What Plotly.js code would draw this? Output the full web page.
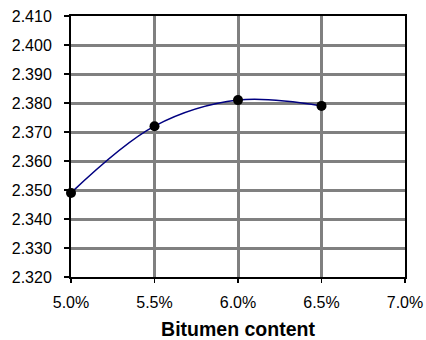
<!DOCTYPE html>
<html>
<head>
<meta charset="utf-8">
<script src="https://cdn.plot.ly/plotly-3.0.1.min.js"></script>
<style>html,body{margin:0;padding:0;background:#fff}#chart{width:426px;height:340px}</style>
</head>
<body>
<div id="chart"></div>
<script>
const bitumen = [0.050, 0.055, 0.060, 0.065];
const density = [2.349, 2.372, 2.381, 2.379];
const xTicks = [0.050, 0.055, 0.060, 0.065, 0.070];
const yTicks = [2.320, 2.330, 2.340, 2.350, 2.360, 2.370, 2.380, 2.390, 2.400, 2.410];
const xTitle = 'Bitumen content';

const font = {family: 'Liberation Sans, Arial, sans-serif', size: 16, color: '#000'};

Plotly.newPlot('chart', [{
  x: bitumen, y: density, type: 'scatter', mode: 'lines+markers',
  line: {shape: 'spline', smoothing: 1, color: '#000080', width: 1.5},
  marker: {color: '#000', size: 10},
  cliponaxis: false
}], {
  width: 426, height: 340,
  margin: {l: 71, r: 21, t: 16, b: 63},
  paper_bgcolor: '#fff', plot_bgcolor: '#fff',
  showlegend: false,
  font: font,
  xaxis: {
    range: [0.05, 0.07], tickvals: xTicks, tickformat: '.1%',
    showgrid: true, gridcolor: '#808080', gridwidth: 3,
    showline: true, linecolor: '#000', linewidth: 2, mirror: true,
    ticks: 'outside', ticklen: 4, tickcolor: '#000', tickwidth: 1.5,
    ticklabelstandoff: 6,
    zeroline: false, tickfont: font,
    title: {text: xTitle, font: {family: 'Liberation Sans, Arial, sans-serif', size: 19.5, weight: 'bold', color: '#000'}, standoff: 19}
  },
  yaxis: {
    range: [2.320, 2.410], tickvals: yTicks, tickformat: '.3f',
    showgrid: true, gridcolor: '#808080', gridwidth: 3,
    showline: true, linecolor: '#000', linewidth: 2, mirror: true,
    ticks: 'outside', ticklen: 5, tickcolor: '#000', tickwidth: 1.5,
    ticklabelstandoff: 9,
    zeroline: false, tickfont: font
  }
}, {displayModeBar: false, staticPlot: true});
</script>
</body>
</html>
